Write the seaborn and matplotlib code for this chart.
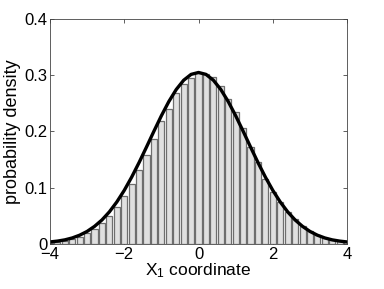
import numpy as np
import pandas as pd
import matplotlib
matplotlib.use("Agg")
import matplotlib.pyplot as plt
import seaborn as sns

# Histogram bin centres and heights (probability density)
bin_centers = [-4.0, -3.8, -3.6, -3.4, -3.2, -3.0, -2.8, -2.6, -2.4, -2.2, -2.0,
               -1.8, -1.6, -1.4, -1.2, -1.0, -0.8, -0.6, -0.4, -0.2, 0.0,
               0.2, 0.4, 0.6, 0.8, 1.0, 1.2, 1.4, 1.6, 1.8, 2.0,
               2.2, 2.4, 2.6, 2.8, 3.0, 3.2, 3.4, 3.6, 3.8, 4.0]
bar_heights = [0.002, 0.004, 0.006, 0.009, 0.013, 0.019, 0.027, 0.037, 0.050, 0.066, 0.085,
               0.107, 0.131, 0.158, 0.187, 0.218, 0.240, 0.268, 0.284, 0.296, 0.304,
               0.303, 0.297, 0.281, 0.257, 0.235, 0.207, 0.173, 0.145, 0.116, 0.093,
               0.075, 0.057, 0.044, 0.032, 0.023, 0.016, 0.011, 0.007, 0.005, 0.003]

# Theoretical density curve
curve_x = [-4.0, -3.8, -3.6, -3.4, -3.2, -3.0, -2.8, -2.6, -2.4, -2.2, -2.0,
           -1.8, -1.6, -1.4, -1.2, -1.0, -0.8, -0.6, -0.4, -0.2, 0.0,
           0.2, 0.4, 0.6, 0.8, 1.0, 1.2, 1.4, 1.6, 1.8, 2.0,
           2.2, 2.4, 2.6, 2.8, 3.0, 3.2, 3.4, 3.6, 3.8, 4.0]
curve_y = [0.0035, 0.0050, 0.0072, 0.0106, 0.0155, 0.0222, 0.0312, 0.0426, 0.0570, 0.0746, 0.0952,
           0.1188, 0.1448, 0.1724, 0.2006, 0.2280, 0.2532, 0.2747, 0.2912, 0.3016, 0.3050,
           0.3016, 0.2912, 0.2747, 0.2532, 0.2280, 0.2006, 0.1724, 0.1448, 0.1188, 0.0952,
           0.0746, 0.0570, 0.0426, 0.0312, 0.0222, 0.0155, 0.0106, 0.0072, 0.0050, 0.0035]

x_ticks = [-4, -2, 0, 2, 4]
y_ticks = [0, 0.1, 0.2, 0.3, 0.4]
y_tick_labels = ["0", "0.1", "0.2", "0.3", "0.4"]
x_tick_labels = ["\u22124", "\u22122", "0", "2", "4"]

sns.set_style("ticks")
plt.rcParams["font.family"] = ["Liberation Sans", "DejaVu Sans"]
plt.rcParams["mathtext.fontset"] = "custom"
plt.rcParams["mathtext.rm"] = "Liberation Sans"
plt.rcParams["mathtext.it"] = "Liberation Sans"
plt.rcParams["mathtext.default"] = "regular"
plt.rcParams["text.color"] = "black"
plt.rcParams["axes.labelcolor"] = "black"
plt.rcParams["xtick.labelcolor"] = "black"
plt.rcParams["ytick.labelcolor"] = "black"

fig = plt.figure(figsize=(3.84, 2.89), dpi=100)
ax = fig.add_axes([0.130, 0.156, 0.774, 0.778])

hist_df = pd.DataFrame({"x": bin_centers, "h": bar_heights})
sns.histplot(data=hist_df, x="x", weights="h", binwidth=0.2, binrange=(-4.1, 4.1),
             stat="count", shrink=0.82, color="#e0e0e0", edgecolor="#6e6e6e",
             linewidth=0.9, alpha=1.0, ax=ax)

curve_df = pd.DataFrame({"x": curve_x, "y": curve_y})
sns.lineplot(data=curve_df, x="x", y="y", color="black", linewidth=2.4, ax=ax)

ax.set_xlim(-4, 4)
ax.set_ylim(0, 0.4)
ax.set_xticks(x_ticks)
ax.set_xticklabels(x_tick_labels)
ax.set_yticks(y_ticks)
ax.set_yticklabels(y_tick_labels)
ax.tick_params(direction="in", top=True, right=True, length=3, width=0.6,
               labelsize=12, color="#444444", pad=2)
for s in ax.spines.values():
    s.set_visible(True)
    s.set_linewidth(0.6)
    s.set_color("#444444")
ax.set_xlabel("X$_1$ coordinate", fontsize=12.5, labelpad=0)
ax.set_ylabel("probability density", fontsize=13, labelpad=2)

fig.savefig("out.png", dpi=100)
